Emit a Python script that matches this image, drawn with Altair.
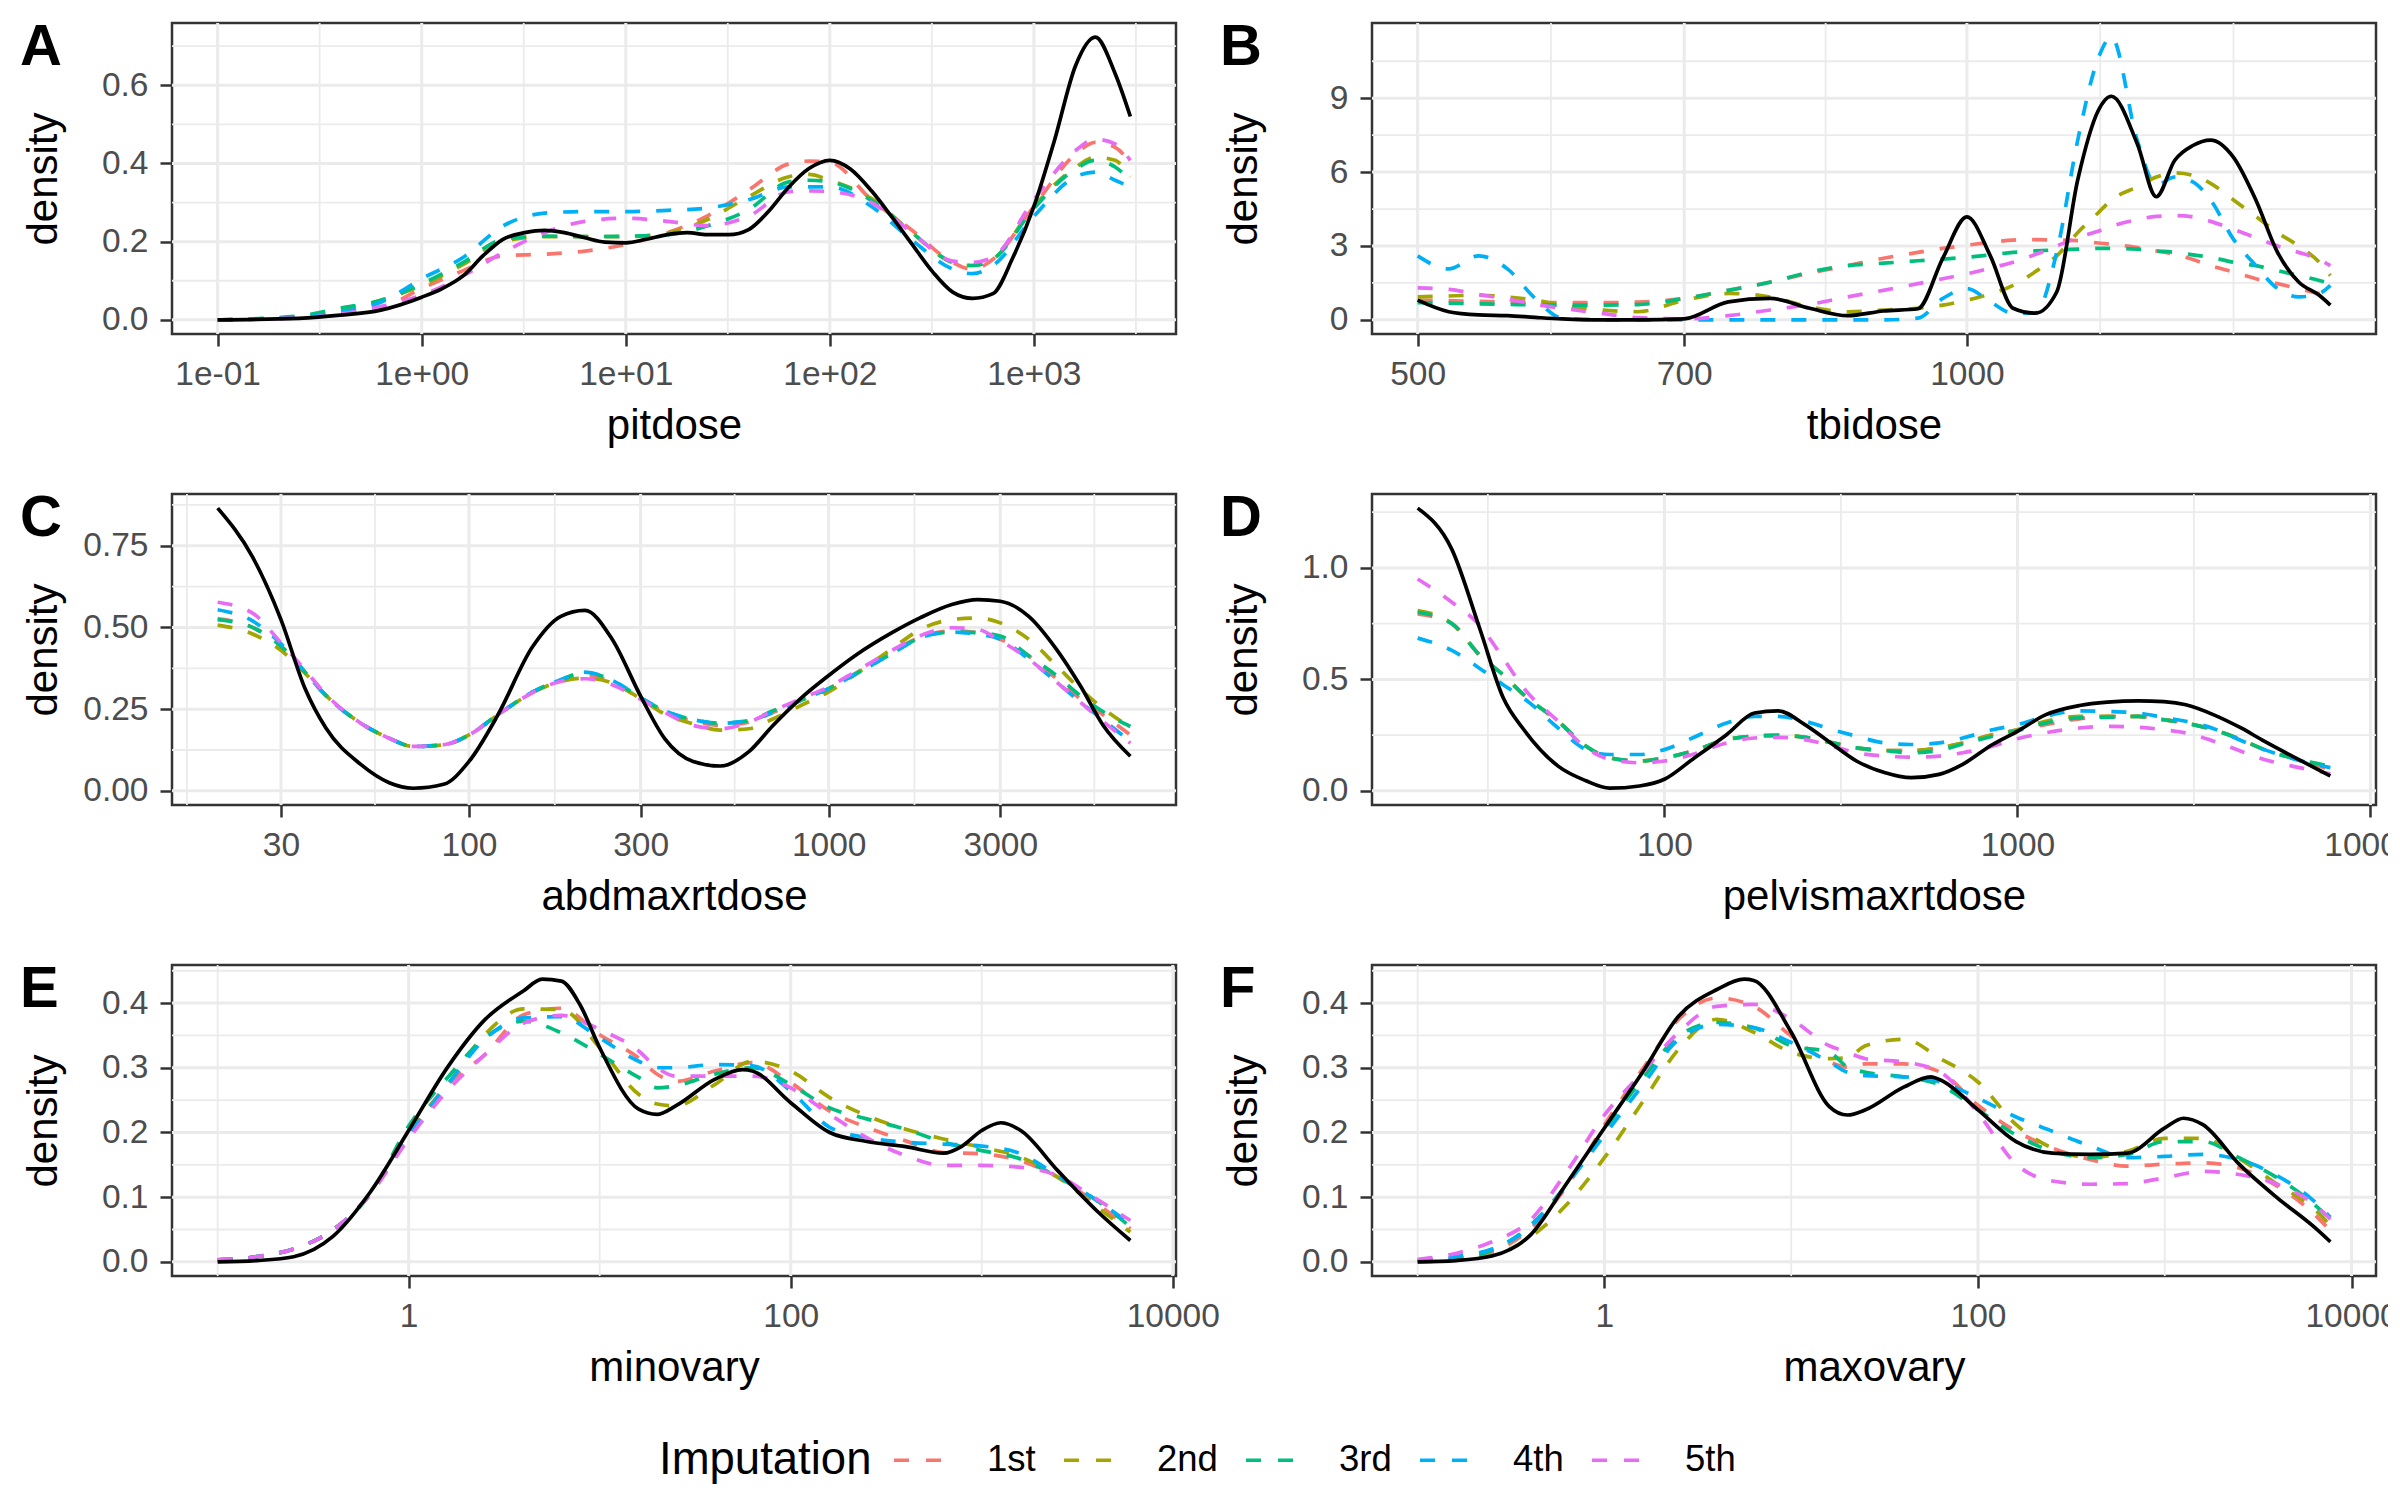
import math
import altair as alt
import pandas as pd

FONT = "Liberation Sans"
SERIES = ["1st", "2nd", "3rd", "4th", "5th"]
COLORS = ["#F8766D", "#A3A500", "#00BF7D", "#00B0F6", "#E76BF3"]

# ---------------- Panel A : pitdose ----------------
A_IMP_X = [0.1, 0.25, 0.4, 0.63, 1, 1.6, 2.5, 4, 6.3, 10, 16, 25, 40, 63, 79, 100,
           160, 250, 400, 500, 630, 1000, 1600, 2000, 2500, 2970]
A_1ST = [0, 0.006, 0.015, 0.03, 0.08, 0.126, 0.164, 0.168, 0.176, 0.193, 0.223, 0.265, 0.332,
         0.399, 0.406, 0.403, 0.307, 0.231, 0.147, 0.129, 0.155, 0.29, 0.424, 0.454, 0.441, 0.403]
A_2ND = [0, 0.008, 0.025, 0.05, 0.088, 0.142, 0.2, 0.213, 0.213, 0.213, 0.222, 0.256, 0.315,
         0.366, 0.372, 0.357, 0.31, 0.225, 0.147, 0.139, 0.155, 0.29, 0.39, 0.416, 0.408, 0.366]
A_3RD = [0, 0.01, 0.03, 0.05, 0.092, 0.147, 0.206, 0.214, 0.213, 0.214, 0.218, 0.24, 0.282,
         0.353, 0.357, 0.353, 0.305, 0.225, 0.147, 0.139, 0.155, 0.285, 0.386, 0.408, 0.391, 0.357]
A_4TH = [0, 0.006, 0.02, 0.045, 0.105, 0.16, 0.24, 0.273, 0.277, 0.277, 0.28, 0.286, 0.307,
         0.34, 0.34, 0.34, 0.29, 0.206, 0.13, 0.118, 0.139, 0.265, 0.366, 0.378, 0.357, 0.34]
A_5TH = [0, 0.005, 0.015, 0.034, 0.063, 0.113, 0.172, 0.223, 0.252, 0.26, 0.252, 0.241, 0.265,
         0.328, 0.33, 0.328, 0.3, 0.225, 0.15, 0.147, 0.16, 0.307, 0.433, 0.462, 0.45, 0.408]
A_OBS_X = [0.1, 0.25, 0.4, 0.63, 1, 1.26, 1.6, 2, 2.5, 3.2, 4, 5, 6.3, 7.9, 10, 12.6, 16, 20,
           25, 32, 40, 50, 63, 79, 100, 126, 160, 200, 250, 320, 400, 500, 630, 790, 1000,
           1260, 1600, 2000, 2500, 2970]
A_OBS_Y = [0, 0.004, 0.012, 0.025, 0.058, 0.08, 0.113, 0.164, 0.206, 0.223, 0.229, 0.223, 0.21,
           0.199, 0.197, 0.206, 0.218, 0.223, 0.218, 0.218, 0.231, 0.277, 0.34, 0.387, 0.408,
           0.386, 0.33, 0.265, 0.197, 0.122, 0.071, 0.055, 0.067, 0.16, 0.29, 0.458, 0.65,
           0.723, 0.63, 0.52]

# ---------------- Panel B : tbidose ----------------
B_X = [500, 520, 540, 560, 580, 600, 630, 660, 700, 740, 780, 820, 860, 900, 940, 970, 1000,
       1030, 1060, 1090, 1120, 1150, 1180, 1200, 1240, 1270, 1300, 1330, 1360, 1400, 1440,
       1480, 1520, 1560, 1582]
B_1ST = [0.8, 0.78, 0.75, 0.72, 0.7, 0.7, 0.7, 0.72, 0.87, 1.2, 1.53, 1.9, 2.2, 2.5, 2.74, 2.9,
         3.03, 3.15, 3.24, 3.26, 3.24, 3.22, 3.12, 3.07, 2.94, 2.8, 2.67, 2.45, 2.2, 1.94, 1.67,
         1.47, 1.27, 1.07, 1.0]
B_2ND = [0.93, 0.97, 1.0, 0.93, 0.8, 0.6, 0.4, 0.33, 0.8, 1.07, 0.93, 0.53, 0.33, 0.4, 0.47, 0.6,
         0.8, 1.05, 1.4, 1.95, 2.6, 3.54, 4.34, 4.87, 5.4, 5.8, 5.97, 5.87, 5.54, 4.87, 4.2,
         3.54, 3.0, 2.34, 1.8]
B_3RD = [0.7, 0.68, 0.65, 0.63, 0.61, 0.6, 0.6, 0.62, 0.87, 1.2, 1.53, 1.94, 2.2, 2.3, 2.4, 2.47,
         2.54, 2.64, 2.74, 2.8, 2.84, 2.87, 2.9, 2.9, 2.87, 2.8, 2.74, 2.64, 2.54, 2.34, 2.2,
         2.0, 1.8, 1.6, 1.47]
B_4TH = [2.6, 2.07, 2.6, 2.07, 0.87, 0.07, 0.0, 0.0, 0.0, 0.0, 0.0, 0.0, 0.0, 0.0, 0.07, 0.87,
         1.27, 0.73, 0.27, 0.27, 2.74, 7.28, 10.6, 11.48, 7.28, 5.47, 5.8, 5.6, 4.87, 3.27, 2.2,
         1.27, 0.93, 1.07, 1.4]
B_5TH = [1.3, 1.24, 1.03, 0.84, 0.63, 0.47, 0.27, 0.09, 0.04, 0.17, 0.4, 0.63, 0.93, 1.2, 1.47,
         1.67, 1.87, 2.1, 2.34, 2.65, 3.0, 3.34, 3.6, 3.8, 4.07, 4.2, 4.23, 4.18, 4.0, 3.67,
         3.34, 3.0, 2.74, 2.45, 2.2]
B_OBS_Y = [0.8, 0.33, 0.2, 0.17, 0.1, 0.04, 0.0, 0.0, 0.04, 0.73, 0.87, 0.47, 0.17, 0.36, 0.45,
           2.5, 4.18, 2.6, 0.47, 0.27, 1.13, 5.67, 8.48, 9.08, 7.14, 5.0, 6.48, 7.08, 7.3, 6.6,
           4.87, 2.74, 1.54, 1.0, 0.6]

# ---------------- Panel C : abdmaxrtdose ----------------
C_X = [20, 25, 30, 35, 40, 50, 60, 70, 85, 100, 120, 150, 180, 210, 250, 300, 350, 420, 500,
       600, 700, 850, 1000, 1200, 1500, 1800, 2200, 2600, 3000, 3600, 4300, 5000, 5800, 6900]
C_1ST = [0.527, 0.5, 0.443, 0.363, 0.292, 0.207, 0.161, 0.136, 0.141, 0.171, 0.232, 0.302, 0.338,
         0.353, 0.333, 0.282, 0.242, 0.214, 0.2, 0.21, 0.24, 0.28, 0.313, 0.363, 0.428, 0.47,
         0.489, 0.484, 0.464, 0.413, 0.343, 0.282, 0.232, 0.171]
C_2ND = [0.507, 0.48, 0.43, 0.36, 0.292, 0.207, 0.161, 0.136, 0.141, 0.171, 0.232, 0.3, 0.335,
         0.345, 0.33, 0.282, 0.235, 0.205, 0.186, 0.19, 0.22, 0.265, 0.303, 0.36, 0.435, 0.494,
         0.524, 0.529, 0.514, 0.464, 0.383, 0.312, 0.252, 0.194]
C_3RD = [0.524, 0.5, 0.443, 0.363, 0.292, 0.207, 0.161, 0.136, 0.141, 0.171, 0.232, 0.302, 0.34,
         0.363, 0.338, 0.285, 0.245, 0.218, 0.207, 0.215, 0.245, 0.28, 0.313, 0.36, 0.42, 0.469,
         0.486, 0.484, 0.474, 0.413, 0.353, 0.292, 0.242, 0.197]
C_4TH = [0.554, 0.52, 0.45, 0.363, 0.292, 0.207, 0.161, 0.136, 0.141, 0.171, 0.232, 0.302, 0.34,
         0.363, 0.338, 0.285, 0.245, 0.218, 0.207, 0.215, 0.24, 0.28, 0.313, 0.36, 0.42, 0.469,
         0.486, 0.479, 0.464, 0.403, 0.333, 0.272, 0.217, 0.151]
C_5TH = [0.577, 0.544, 0.453, 0.37, 0.295, 0.207, 0.161, 0.136, 0.141, 0.171, 0.232, 0.3, 0.335,
         0.343, 0.325, 0.28, 0.24, 0.2, 0.19, 0.21, 0.245, 0.285, 0.318, 0.368, 0.43, 0.475,
         0.499, 0.494, 0.459, 0.403, 0.333, 0.272, 0.212, 0.146]
C_OBS_Y = [0.865, 0.716, 0.524, 0.313, 0.192, 0.081, 0.025, 0.008, 0.02, 0.09, 0.23, 0.44, 0.534,
           0.552, 0.464, 0.29, 0.16, 0.09, 0.076, 0.12, 0.2, 0.29, 0.353, 0.418, 0.484, 0.53,
           0.57, 0.585, 0.58, 0.534, 0.433, 0.323, 0.2, 0.106]

# ---------------- Panel D : pelvismaxrtdose ----------------
D_X = [20, 25, 30, 35, 40, 50, 60, 70, 85, 100, 120, 150, 180, 210, 250, 300, 350, 420, 500,
       600, 700, 850, 1000, 1200, 1500, 1800, 2200, 2600, 3000, 3600, 4300, 5000, 6000, 7700]
D_1ST = [0.794, 0.75, 0.608, 0.519, 0.43, 0.312, 0.2, 0.148, 0.134, 0.148, 0.178, 0.23, 0.245,
         0.249, 0.24, 0.215, 0.193, 0.181, 0.181, 0.193, 0.215, 0.252, 0.274, 0.297, 0.323,
         0.334, 0.334, 0.319, 0.304, 0.274, 0.23, 0.185, 0.148, 0.096]
D_2ND = [0.809, 0.75, 0.608, 0.519, 0.43, 0.312, 0.2, 0.148, 0.134, 0.148, 0.178, 0.23, 0.245,
         0.249, 0.24, 0.215, 0.193, 0.181, 0.181, 0.193, 0.215, 0.252, 0.274, 0.312, 0.334,
         0.334, 0.334, 0.319, 0.304, 0.274, 0.23, 0.185, 0.148, 0.107]
D_3RD = [0.801, 0.75, 0.608, 0.519, 0.43, 0.312, 0.2, 0.148, 0.134, 0.148, 0.178, 0.23, 0.245,
         0.249, 0.24, 0.215, 0.193, 0.181, 0.171, 0.181, 0.21, 0.245, 0.27, 0.304, 0.327, 0.33,
         0.334, 0.319, 0.304, 0.274, 0.23, 0.185, 0.148, 0.111]
D_4TH = [0.685, 0.63, 0.549, 0.475, 0.415, 0.282, 0.185, 0.163, 0.163, 0.185, 0.237, 0.304,
         0.334, 0.334, 0.312, 0.274, 0.245, 0.215, 0.208, 0.215, 0.237, 0.274, 0.297, 0.334,
         0.359, 0.356, 0.349, 0.329, 0.312, 0.279, 0.226, 0.185, 0.145, 0.104]
D_5TH = [0.95, 0.846, 0.742, 0.593, 0.46, 0.312, 0.193, 0.141, 0.126, 0.134, 0.163, 0.215, 0.237,
         0.24, 0.23, 0.2, 0.171, 0.156, 0.151, 0.156, 0.171, 0.2, 0.234, 0.26, 0.282, 0.289,
         0.285, 0.274, 0.26, 0.223, 0.178, 0.141, 0.111, 0.077]
D_OBS_Y = [1.268, 1.083, 0.727, 0.415, 0.274, 0.111, 0.045, 0.012, 0.022, 0.052, 0.141, 0.252,
           0.349, 0.359, 0.297, 0.208, 0.134, 0.082, 0.059, 0.074, 0.119, 0.208, 0.267, 0.341,
           0.383, 0.398, 0.404, 0.4, 0.386, 0.341, 0.282, 0.223, 0.156, 0.067]

# ---------------- Panel E : minovary ----------------
E_X = [0.1, 0.16, 0.25, 0.4, 0.63, 1, 1.6, 2.5, 4, 6.3, 10, 16, 20, 25, 40, 63, 100, 160, 250,
       400, 630, 1000, 1600, 2500, 4000, 6000]
E_1ST = [0.003, 0.008, 0.02, 0.049, 0.105, 0.195, 0.274, 0.32, 0.382, 0.392, 0.351, 0.315, 0.29,
         0.279, 0.295, 0.308, 0.277, 0.233, 0.208, 0.187, 0.169, 0.167, 0.156, 0.131, 0.09, 0.051]
E_2ND = [0.003, 0.008, 0.02, 0.049, 0.105, 0.2, 0.274, 0.351, 0.391, 0.39, 0.331, 0.259, 0.244,
         0.241, 0.274, 0.31, 0.295, 0.254, 0.226, 0.205, 0.19, 0.177, 0.162, 0.131, 0.085, 0.046]
E_3RD = [0.003, 0.008, 0.02, 0.049, 0.105, 0.21, 0.285, 0.346, 0.372, 0.354, 0.321, 0.285, 0.269,
         0.272, 0.29, 0.3, 0.274, 0.238, 0.221, 0.205, 0.185, 0.172, 0.159, 0.131, 0.095, 0.054]
E_4TH = [0.003, 0.008, 0.02, 0.049, 0.105, 0.195, 0.274, 0.344, 0.377, 0.379, 0.346, 0.31, 0.3,
         0.3, 0.305, 0.303, 0.264, 0.208, 0.192, 0.185, 0.182, 0.179, 0.167, 0.133, 0.095, 0.059]
E_5TH = [0.003, 0.008, 0.02, 0.049, 0.105, 0.19, 0.265, 0.32, 0.369, 0.381, 0.359, 0.326, 0.3,
         0.287, 0.287, 0.287, 0.269, 0.228, 0.192, 0.164, 0.149, 0.149, 0.146, 0.133, 0.097, 0.064]
E_OBS_X = [0.1, 0.16, 0.25, 0.4, 0.63, 1, 1.6, 2.5, 4, 5, 6.3, 7.9, 10, 16, 20, 25, 40, 56, 63,
           100, 160, 250, 400, 630, 790, 1000, 1260, 1600, 2500, 4000, 6000]
E_OBS_Y = [0, 0.002, 0.008, 0.039, 0.108, 0.203, 0.301, 0.374, 0.419, 0.437, 0.434, 0.397, 0.331,
           0.236, 0.228, 0.241, 0.282, 0.297, 0.295, 0.246, 0.2, 0.186, 0.178, 0.168, 0.179,
           0.203, 0.215, 0.203, 0.141, 0.079, 0.033]

# ---------------- Panel F : maxovary ----------------
F_X = [0.1, 0.16, 0.25, 0.4, 0.63, 1, 1.6, 2.5, 4, 6.3, 10, 16, 20, 25, 40, 63, 100, 160, 250,
       400, 630, 1000, 1600, 2500, 4000, 6300, 7700]
F_1ST = [0.002, 0.005, 0.015, 0.051, 0.117, 0.212, 0.298, 0.375, 0.408, 0.395, 0.349, 0.309,
         0.301, 0.306, 0.306, 0.293, 0.242, 0.202, 0.176, 0.158, 0.148, 0.151, 0.153, 0.145,
         0.117, 0.074, 0.048]
F_2ND = [0.0, 0.003, 0.01, 0.038, 0.089, 0.161, 0.247, 0.329, 0.375, 0.355, 0.324, 0.314, 0.316,
         0.334, 0.344, 0.314, 0.278, 0.212, 0.176, 0.161, 0.171, 0.191, 0.191, 0.16, 0.12,
         0.082, 0.056]
F_3RD = [0.002, 0.005, 0.018, 0.056, 0.12, 0.204, 0.283, 0.349, 0.37, 0.362, 0.334, 0.324, 0.301,
         0.293, 0.286, 0.273, 0.235, 0.196, 0.171, 0.161, 0.166, 0.186, 0.186, 0.161, 0.13,
         0.089, 0.066]
F_4TH = [0.002, 0.008, 0.02, 0.054, 0.12, 0.196, 0.273, 0.344, 0.367, 0.362, 0.339, 0.309, 0.293,
         0.288, 0.286, 0.278, 0.253, 0.224, 0.202, 0.179, 0.161, 0.163, 0.166, 0.158, 0.133,
         0.094, 0.069]
F_5TH = [0.004, 0.013, 0.031, 0.064, 0.14, 0.227, 0.293, 0.355, 0.395, 0.398, 0.375, 0.334,
         0.324, 0.314, 0.309, 0.293, 0.23, 0.151, 0.125, 0.12, 0.121, 0.13, 0.14, 0.135, 0.12,
         0.089, 0.066]
F_OBS_X = [0.1, 0.16, 0.25, 0.4, 0.63, 1, 1.6, 2.5, 4, 5.6, 6.3, 10, 16, 20, 25, 40, 56, 63,
           100, 160, 250, 400, 630, 1000, 1260, 1600, 2500, 4000, 6300, 7700]
F_OBS_Y = [0, 0.002, 0.009, 0.041, 0.122, 0.207, 0.293, 0.38, 0.421, 0.437, 0.435, 0.355, 0.24,
           0.227, 0.235, 0.27, 0.286, 0.281, 0.235, 0.186, 0.168, 0.166, 0.168, 0.207, 0.222,
           0.212, 0.151, 0.099, 0.054, 0.031]

# ---------------- breaks (major / minor, as in ggplot) ----------------
A_XMAJ = [0.1, 1, 10, 100, 1000]
A_XMIN = [0.3162, 3.162, 31.62, 316.2, 3162]
B_XMAJ = [500, 700, 1000]
B_XMIN = [591.6, 836.7, 1183.2, 1400]
C_XMAJ = [30, 100, 300, 1000, 3000]
C_XMIN = [16.43, 54.77, 173.2, 547.7, 1732, 5477]
D_XMAJ = [100, 1000, 10000]
D_XMIN = [31.62, 316.2, 3162]
EF_XMAJ = [1, 100, 10000]
EF_XMIN = [0.1, 10, 1000]

A_YMAJ, A_YMIN = [0, 0.2, 0.4, 0.6], [0.1, 0.3, 0.5, 0.7]
B_YMAJ, B_YMIN = [0, 3, 6, 9], [1.5, 4.5, 7.5, 10.5]
C_YMAJ, C_YMIN = [0, 0.25, 0.5, 0.75], [0.125, 0.375, 0.625, 0.875]
D_YMAJ, D_YMIN = [0, 0.5, 1.0], [0.25, 0.75, 1.25]
EF_YMAJ, EF_YMIN = [0, 0.1, 0.2, 0.3, 0.4], [0.05, 0.15, 0.25, 0.35, 0.45]

W, H = 1004, 311
GRID = "#EBEBEB"

LEGEND = alt.Legend(
    title="Imputation", orient="none", legendX=487, legendY=1411, direction="horizontal",
    titleOrient="left", titleFont=FONT, titleFontSize=45.5, titleFontWeight="normal",
    titleColor="black", titlePadding=20, titleLimit=500, titleBaseline="line-top",
    titleLineHeight=10, titleAnchor="middle", gridAlign="each",
    labelFont=FONT, labelFontSize=36.5, labelColor="black", labelOffset=43, labelLimit=300,
    columnPadding=20, symbolType="stroke", symbolSize=2304, symbolStrokeWidth=3.7,
    symbolDash=[15, 17],
)


def panel(letter, xtitle, imp_x, imp_ys, obs_x, obs_y, x_major, x_minor, y_major, y_minor,
          y_fmt, x_expr=None):
    xs = list(imp_x) + list(obs_x)
    lo, hi = math.log10(min(xs)), math.log10(max(xs))
    p = 0.05 * (hi - lo)
    xdom = [10 ** (lo - p), 10 ** (hi + p)]
    ys = list(obs_y) + [v for s in imp_ys for v in s]
    ylo, yhi = min(0.0, min(ys)), max(ys)
    q = 0.05 * (yhi - ylo)
    ydom = [ylo - q, yhi + q]

    xaxis = dict(values=x_major, title=xtitle, labelFlush=False, labelOverlap=False)
    if x_expr:
        xaxis["labelExpr"] = x_expr
    else:
        xaxis["format"] = "d"
    xenc = alt.X("x:Q", scale=alt.Scale(type="log", domain=xdom, nice=False),
                 axis=alt.Axis(**xaxis))
    yenc = alt.Y("y:Q", scale=alt.Scale(domain=ydom, nice=False, zero=False),
                 axis=alt.Axis(values=y_major, format=y_fmt, title="density",
                               labelOverlap=False, labelFlush=False))

    vmin = alt.Chart(pd.DataFrame({"x": x_minor})).mark_rule(
        color=GRID, strokeWidth=1.8).encode(x=xenc)
    hmin = alt.Chart(pd.DataFrame({"y": y_minor})).mark_rule(
        color=GRID, strokeWidth=1.8).encode(y=yenc)
    vmaj = alt.Chart(pd.DataFrame({"x": x_major})).mark_rule(
        color=GRID, strokeWidth=3.0).encode(x=xenc)
    hmaj = alt.Chart(pd.DataFrame({"y": y_major})).mark_rule(
        color=GRID, strokeWidth=3.0).encode(y=yenc)

    rows = []
    for name, yv in zip(SERIES, imp_ys):
        for xv, v in zip(imp_x, yv):
            rows.append({"x": xv, "y": v, "series": name})
    imp = alt.Chart(pd.DataFrame(rows)).mark_line(
        strokeWidth=3.7, strokeDash=[15, 16], interpolate="monotone"
    ).encode(
        x=xenc, y=yenc,
        color=alt.Color("series:N", scale=alt.Scale(domain=SERIES, range=COLORS), legend=LEGEND),
    )
    obs = alt.Chart(pd.DataFrame({"x": obs_x, "y": obs_y})).mark_line(
        color="black", strokeWidth=3.7, interpolate="monotone"
    ).encode(x=xenc, y=yenc)
    lab = alt.Chart(pd.DataFrame({"t": [letter]})).mark_text(
        font=FONT, fontSize=58, fontWeight="bold", align="left", baseline="alphabetic",
        color="black"
    ).encode(text="t:N", x=alt.value(-152), y=alt.value(42))
    return alt.layer(vmin, hmin, vmaj, hmaj, imp, obs, lab).properties(width=W, height=H)


SCI = "replace(replace(format(datum.value, '.0e'), 'e-', 'e-0'), 'e+', 'e+0')"

pA = panel("A", "pitdose", A_IMP_X, [A_1ST, A_2ND, A_3RD, A_4TH, A_5TH], A_OBS_X, A_OBS_Y,
           A_XMAJ, A_XMIN, A_YMAJ, A_YMIN, ".1f", x_expr=SCI)
pB = panel("B", "tbidose", B_X, [B_1ST, B_2ND, B_3RD, B_4TH, B_5TH], B_X, B_OBS_Y,
           B_XMAJ, B_XMIN, B_YMAJ, B_YMIN, "d")
pC = panel("C", "abdmaxrtdose", C_X, [C_1ST, C_2ND, C_3RD, C_4TH, C_5TH], C_X, C_OBS_Y,
           C_XMAJ, C_XMIN, C_YMAJ, C_YMIN, ".2f")
pD = panel("D", "pelvismaxrtdose", D_X, [D_1ST, D_2ND, D_3RD, D_4TH, D_5TH], D_X, D_OBS_Y,
           D_XMAJ, D_XMIN, D_YMAJ, D_YMIN, ".1f")
pE = panel("E", "minovary", E_X, [E_1ST, E_2ND, E_3RD, E_4TH, E_5TH], E_OBS_X, E_OBS_Y,
           EF_XMAJ, EF_XMIN, EF_YMAJ, EF_YMIN, ".1f")
pF = panel("F", "maxovary", F_X, [F_1ST, F_2ND, F_3RD, F_4TH, F_5TH], F_OBS_X, F_OBS_Y,
           EF_XMAJ, EF_XMIN, EF_YMAJ, EF_YMIN, ".1f")

chart = alt.concat(
    pA, pB, pC, pD, pE, pF, columns=2, spacing={"row": 160, "column": 196}, bounds="flush"
).properties(
    padding={"left": 10, "top": 9, "right": -31, "bottom": 2}
).configure_view(
    stroke="#333333", strokeWidth=2.5
).configure_axis(
    labelFont=FONT, labelFontSize=33.5, labelColor="#4D4D4D",
    titleFont=FONT, titleFontSize=42, titleFontWeight="normal", titleColor="black",
    tickColor="#333333", tickWidth=2.5, tickSize=12, domain=False, grid=False,
).configure_axisX(
    labelPadding=12.5, titleBaseline="alphabetic", titleY=104
).configure_axisY(
    labelPadding=12, titleX=-107, titleY=H / 2
)

chart.save("out.html", embed_options={"renderer": "svg", "actions": False})
